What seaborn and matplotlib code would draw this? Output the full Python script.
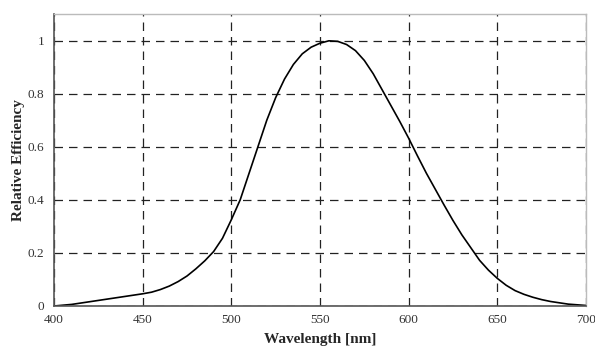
import matplotlib
matplotlib.use("Agg")
import matplotlib.pyplot as plt
import seaborn as sns
import pandas as pd

wavelength = [400, 410, 420, 430, 440, 450, 455, 460, 465, 470, 475, 480, 485, 490, 495, 500, 505,
              510, 515, 520, 525, 530, 535, 540, 545, 550, 555, 560, 565, 570, 575, 580, 585,
              590, 595, 600, 605, 610, 615, 620, 625, 630, 635, 640, 645, 650, 655, 660, 665,
              670, 675, 680, 690, 700]
efficiency = [0.0, 0.006, 0.016, 0.026, 0.036, 0.046, 0.052, 0.062, 0.075, 0.092, 0.113, 0.14,
              0.17, 0.205, 0.255, 0.325, 0.40, 0.50, 0.60, 0.70, 0.785, 0.855, 0.91, 0.95, 0.975,
              0.99, 0.999, 0.997, 0.985, 0.962, 0.925, 0.875, 0.815, 0.755, 0.695, 0.632, 0.565,
              0.50, 0.44, 0.38, 0.322, 0.268, 0.22, 0.172, 0.135, 0.104, 0.078, 0.058, 0.044,
              0.033, 0.024, 0.017, 0.007, 0.002]
x_ticks = [400, 450, 500, 550, 600, 650, 700]
y_ticks = [0, 0.2, 0.4, 0.6, 0.8, 1]
y_tick_labels = ["0", "0.2", "0.4", "0.6", "0.8", "1"]

sns.set_style("white")
plt.rcParams["font.family"] = ["Liberation Serif", "DejaVu Serif"]

df = pd.DataFrame({"Wavelength": wavelength, "Efficiency": efficiency})

fig = plt.figure(figsize=(5.95, 3.49), dpi=100)
ax = fig.add_axes([54 / 595, 1 - 306 / 349, 532 / 595, 292 / 349])
sns.lineplot(data=df, x="Wavelength", y="Efficiency", ax=ax, color="black", linewidth=1.2)

ax.set_xlim(400, 700)
ax.set_ylim(0, 1.1)
ax.set_xticks(x_ticks)
ax.set_yticks(y_ticks)
ax.set_yticklabels(y_tick_labels)
ax.grid(True, color="#222222", linestyle=(0, (6.8, 4.8)), linewidth=0.9)
ax.set_axisbelow(True)

for side in ["left", "bottom"]:
    ax.spines[side].set_color("#555555")
    ax.spines[side].set_linewidth(1.2)
for side in ["top", "right"]:
    ax.spines[side].set_color("#bbbbbb")
    ax.spines[side].set_linewidth(1.0)

ax.tick_params(axis="both", which="major", labelsize=9.5, colors="#333333", length=4, width=1,
               direction="inout")
ax.tick_params(axis="x", pad=4)
ax.tick_params(axis="y", pad=3, direction="out")
ax.set_xlabel("Wavelength [nm]", fontsize=11, fontweight="bold", labelpad=5)
ax.set_ylabel("Relative Efficiency", fontsize=11, fontweight="bold", labelpad=2)

fig.savefig("out.png", dpi=100)
